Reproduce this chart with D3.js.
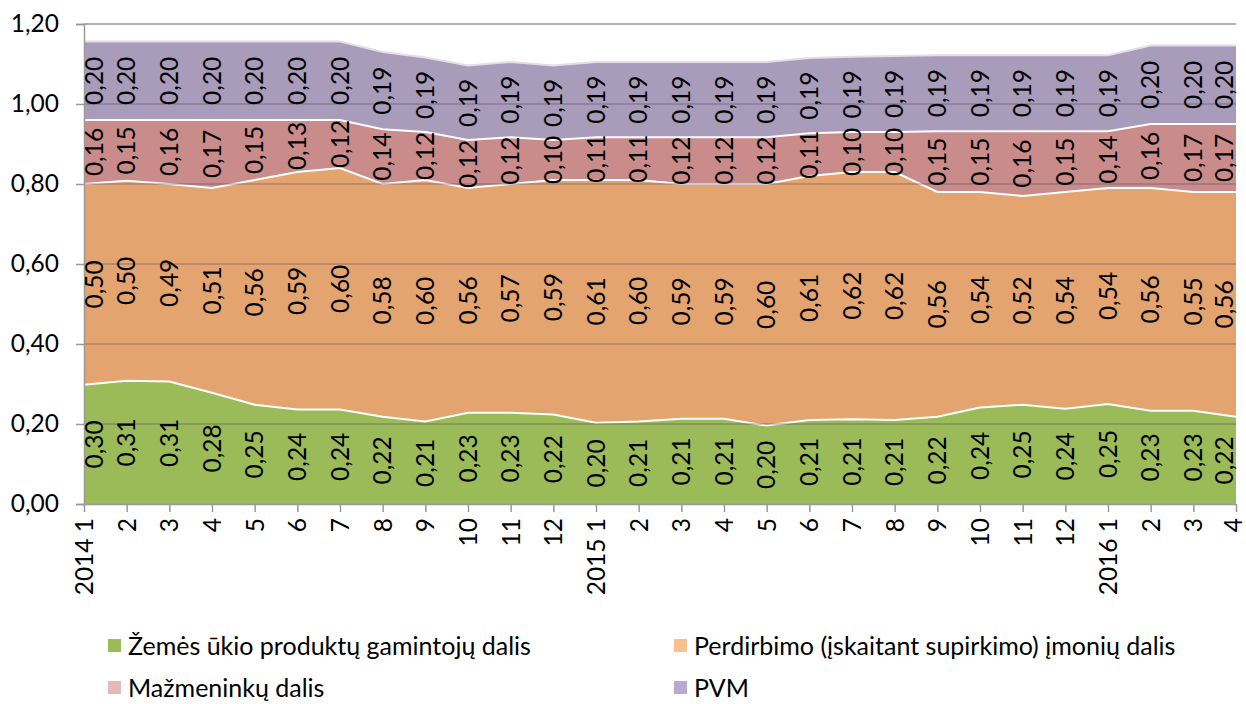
<!DOCTYPE html>
<html>
<head>
<meta charset="utf-8">
<script src="https://cdn.jsdelivr.net/npm/d3@7"></script>
<style>
  body { margin: 0; background: #fff; }
  text { font-family: Lato, "Open Sans", sans-serif; fill: #000; }
</style>
</head>
<body>
<div id="chart"></div>
<script>
// periods (2014 1 .. 2016 4)
const periods = ['2014 1','2','3','4','5','6','7','8','9','10','11','12',
                 '2015 1','2','3','4','5','6','7','8','9','10','11','12',
                 '2016 1','2','3','4'];

// shares of the retail price
const farmShare = [0.298,0.308,0.306,0.278,0.248,0.236,0.236,0.218,0.206,0.228,0.228,0.224,
                   0.203,0.206,0.213,0.213,0.196,0.210,0.212,0.210,0.218,0.241,0.248,0.238,
                   0.250,0.233,0.233,0.218];
const processShare = [0.502,0.500,0.494,0.512,0.562,0.594,0.604,0.582,0.604,0.562,0.572,0.586,
                      0.607,0.604,0.587,0.587,0.604,0.610,0.618,0.620,0.562,0.539,0.522,0.542,
                      0.540,0.557,0.547,0.562];
const retailShare = [0.160,0.152,0.160,0.170,0.150,0.130,0.120,0.137,0.120,0.120,0.117,0.100,
                     0.107,0.107,0.117,0.117,0.117,0.107,0.100,0.100,0.152,0.152,0.162,0.152,
                     0.142,0.160,0.170,0.170];
const vatShare = [0.196,0.196,0.196,0.196,0.196,0.196,0.196,0.193,0.186,0.186,0.188,0.186,
                  0.188,0.188,0.188,0.188,0.188,0.188,0.188,0.190,0.190,0.190,0.190,0.190,
                  0.190,0.196,0.196,0.196];

const seriesNames = ['Žemės ūkio produktų gamintojų dalis',
                     'Perdirbimo (įskaitant supirkimo) įmonių dalis',
                     'Mažmeninkų dalis',
                     'PVM'];
const yTicks = [0, 0.2, 0.4, 0.6, 0.8, 1.0, 1.2];

const areaColors = ['#9bbb59', '#e3a46f', '#c98c8b', '#a99bba'];
const legendColors = ['#9bbb59', '#fac090', '#e6b9b8', '#b8a9cf'];

const w = 1246, h = 704;
const plotL = 84, plotR = 1236, plotT = 24, plotB = 504;
const fontSize = '24.5px';

const rows = periods.map((p, i) => ({
  i: i, s0: farmShare[i], s1: processShare[i], s2: retailShare[i], s3: vatShare[i]
}));
const keys = ['s0', 's1', 's2', 's3'];
const stacked = d3.stack().keys(keys)(rows);

const x = d3.scaleLinear().domain([0, periods.length - 1]).range([plotL, plotR]);
const y = d3.scaleLinear().domain([0, 1.2]).range([plotB, plotT]);
const fmt = v => v.toFixed(2).replace('.', ',');

const svg = d3.select('#chart').append('svg')
  .attr('width', w).attr('height', h);

// areas
const area = d3.area()
  .x(d => x(d.data.i))
  .y0(d => y(d[0]))
  .y1(d => y(d[1]));

svg.selectAll('path.area')
  .data(stacked)
  .enter()
  .append('path')
  .attr('class', 'area')
  .attr('d', area)
  .attr('fill', (d, i) => areaColors[i]);

// white borders between layers
const topLine = d3.line().x(d => x(d.data.i)).y(d => y(d[1]));
svg.selectAll('path.edge')
  .data(stacked)
  .enter()
  .append('path')
  .attr('class', 'edge')
  .attr('d', topLine)
  .attr('fill', 'none')
  .attr('stroke', (d, i) => i === 3 ? '#e4dcea' : '#fff')
  .attr('stroke-width', 2);

// gridlines
svg.selectAll('line.grid')
  .data(yTicks.slice(1))
  .enter()
  .append('line')
  .attr('class', 'grid')
  .attr('x1', plotL).attr('x2', plotR)
  .attr('y1', d => y(d)).attr('y2', d => y(d))
  .attr('stroke', d => d === 1.2 ? '#999' : '#5a4a5a')
  .attr('stroke-opacity', d => d === 1.2 ? 1 : 0.4)
  .attr('stroke-width', 1.5);

// axes
const yAxis = d3.axisLeft(y).tickValues(yTicks).tickFormat(fmt).tickSize(8).tickPadding(17);
const gy = svg.append('g').attr('transform', `translate(${plotL},0)`).call(yAxis);
gy.select('.domain').attr('stroke', '#999').attr('stroke-width', 1.5);
gy.selectAll('.tick line').attr('stroke', '#999').attr('stroke-width', 1.5);
gy.selectAll('.tick text').style('font-size', fontSize).attr('font-family', null);

const xAxis = d3.axisBottom(x).tickValues(d3.range(periods.length))
  .tickFormat(i => periods[i]).tickSize(8).tickSizeOuter(0);
const gx = svg.append('g').attr('transform', `translate(0,${plotB})`).call(xAxis);
gx.select('.domain').attr('stroke', '#999').attr('stroke-width', 1.5);
gx.selectAll('.tick line').attr('stroke', '#999').attr('stroke-width', 1.5);
gx.selectAll('.tick text')
  .attr('font-family', null)
  .style('font-size', fontSize)
  .attr('text-anchor', 'end')
  .attr('dy', '0.35em')
  .attr('y', 0)
  .attr('transform', (d, i) => `translate(${i === periods.length - 1 ? -3 : 0},14) rotate(-90)`);

// data labels
const labelHalf = 10;
stacked.forEach(layer => {
  svg.append('g').selectAll('text')
    .data(layer)
    .enter()
    .append('text')
    .attr('transform', d => {
      const cx = Math.min(Math.max(x(d.data.i), plotL + labelHalf), plotR - labelHalf - 2);
      const cy = y((d[0] + d[1]) / 2);
      return `translate(${cx},${cy}) rotate(-90)`;
    })
    .attr('text-anchor', 'middle')
    .attr('dy', '0.35em')
    .style('font-size', fontSize)
    .text(d => fmt(d[1] - d[0]));
});

// legend
const legendPos = [[108, 646], [674, 646], [108, 688], [674, 688]];
const legend = svg.append('g').selectAll('g')
  .data(seriesNames)
  .enter()
  .append('g')
  .attr('transform', (d, i) => `translate(${legendPos[i][0]},${legendPos[i][1]})`);
legend.append('rect')
  .attr('x', 0).attr('y', -7).attr('width', 13).attr('height', 13)
  .attr('fill', (d, i) => legendColors[i]);
legend.append('text')
  .attr('x', 20).attr('dy', '0.35em')
  .style('font-size', '25px')
  .text(d => d);
</script>
</body>
</html>
